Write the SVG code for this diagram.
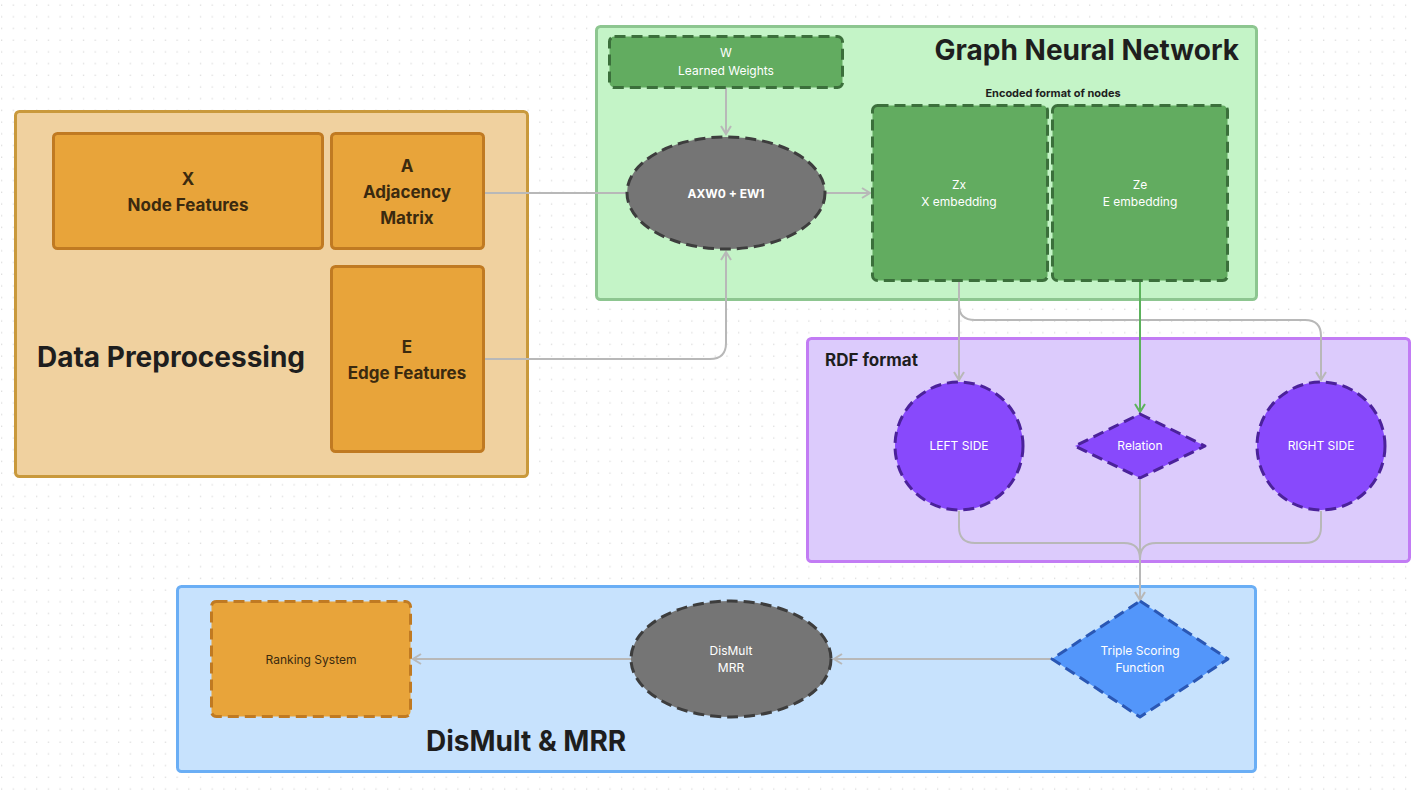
<svg xmlns="http://www.w3.org/2000/svg" width="1412" height="791" viewBox="0 0 1412 791">
<defs>
<pattern id="dots" x="0" y="0" width="11.7" height="11.7" patternUnits="userSpaceOnUse">
<rect x="1" y="4.5" width="1.2" height="1.2" fill="#d6d6d6"/>
</pattern>
<marker id="ah" viewBox="0 0 12 12" refX="10" refY="6" markerWidth="12" markerHeight="12" markerUnits="userSpaceOnUse" orient="auto">
<path d="M2,1 L10,6 L2,11" fill="none" stroke="#b8b8b8" stroke-width="2"/>
</marker>
<marker id="ahg" viewBox="0 0 12 12" refX="10" refY="6" markerWidth="12" markerHeight="12" markerUnits="userSpaceOnUse" orient="auto">
<path d="M2,1 L10,6 L2,11" fill="none" stroke="#5cb25c" stroke-width="2"/>
</marker>
<style>
text{font-family:Inter,"Noto Sans","Liberation Sans",sans-serif;}
.title{font-size:28px;font-weight:700;fill:#1e1e1e;}
.orn{fill:#e8a43a;stroke:#c07a22;stroke-width:3;}
.ornd{fill:#e8a43a;stroke:#c07a22;stroke-width:3;stroke-dasharray:11 6;}
.gr{fill:#62ac60;stroke:#3b6f3b;stroke-width:3;stroke-dasharray:11 6;}
.gy{fill:#757575;stroke:#3d3d3d;stroke-width:3;stroke-dasharray:11 6;}
.pu{fill:#8849fc;stroke:#4b229a;stroke-width:3;stroke-dasharray:11 6;}
.bl{fill:#5396fa;stroke:#2a57b4;stroke-width:3;stroke-dasharray:11 6;}
.ot{font-size:17px;font-weight:700;fill:#3b2a0f;text-anchor:middle;}
.wt{font-size:12px;fill:#ffffff;text-anchor:middle;}
.wb{font-size:12px;font-weight:700;fill:#ffffff;text-anchor:middle;}
.con{fill:none;stroke:#b8b8b8;stroke-width:2;}
</style>
</defs>
<rect width="1412" height="791" fill="#ffffff"/>
<rect width="1412" height="791" fill="url(#dots)"/>

<g id="data-preprocessing">
<rect x="15.5" y="111.5" width="512" height="365" rx="4" fill="#f0d19f" stroke="#c9993c" stroke-width="3"/>
<text x="37" y="367" class="title">Data Preprocessing</text>
</g>
<g id="gnn">
<rect x="596.5" y="26.5" width="660" height="273" rx="4" fill="#c4f4c7" stroke="#8dc690" stroke-width="3"/>
<text x="1239" y="60" class="title" text-anchor="end">Graph Neural Network</text>
<text x="1053" y="97" font-size="11" font-weight="700" fill="#1e1e1e" text-anchor="middle">Encoded format of nodes</text>
</g>
<g id="rdf">
<rect x="807.5" y="338.5" width="602" height="223" rx="4" fill="#dccbfc" stroke="#c27cf4" stroke-width="3"/>
<text x="825" y="366" font-size="17" font-weight="700" fill="#1e1e1e">RDF format</text>
</g>
<g id="dismult-mrr">
<rect x="177.5" y="586.5" width="1078" height="185" rx="4" fill="#c7e2fd" stroke="#6aaef5" stroke-width="3"/>
<text x="426" y="751" class="title">DisMult &amp; MRR</text>
</g>

<g id="connectors">
<path class="con" d="M484,193 H627"/>
<path class="con" d="M484,359 H710 Q726,359 726,343 V252" marker-end="url(#ah)"/>
<path class="con" d="M726,88 V134" marker-end="url(#ah)"/>
<path class="con" d="M826,193 H870" marker-end="url(#ah)"/>
<path class="con" d="M959,282 V380" marker-end="url(#ah)"/>
<path class="con" d="M959,305 Q959,320 975,320 H1305 Q1321,320 1321,336 V380" marker-end="url(#ah)"/>
<path d="M1140,282 V412" fill="none" stroke="#5cb25c" stroke-width="2" marker-end="url(#ahg)"/>
<path class="con" d="M959,511 V527 Q959,543 975,543 H1124 Q1140,543 1140,559"/>
<path class="con" d="M1321,511 V527 Q1321,543 1305,543 H1156 Q1140,543 1140,559"/>
<path class="con" d="M1140,480 V600" marker-end="url(#ah)"/>
<path class="con" d="M1052,659 H834" marker-end="url(#ah)"/>
<path class="con" d="M631,659 H413" marker-end="url(#ah)"/>
</g>

<g id="node-x">
<rect x="53.5" y="133.5" width="269" height="115" rx="4" class="orn"/>
<text x="188" y="185" class="ot">X</text>
<text x="188" y="211" class="ot">Node Features</text>
</g>
<g id="node-a">
<rect x="331.5" y="133.5" width="152" height="115" rx="4" class="orn"/>
<text x="407" y="172" class="ot">A</text>
<text x="407" y="198" class="ot">Adjacency</text>
<text x="407" y="224" class="ot">Matrix</text>
</g>
<g id="node-e">
<rect x="331.5" y="266.5" width="152" height="185" rx="4" class="orn"/>
<text x="407" y="353" class="ot">E</text>
<text x="407" y="379" class="ot">Edge Features</text>
</g>
<g id="node-w">
<rect x="609.5" y="36.5" width="233" height="51" rx="5" class="gr"/>
<text x="726" y="57" class="wt">W</text>
<text x="726" y="75" class="wt">Learned Weights</text>
</g>
<g id="node-axw">
<ellipse cx="726" cy="193" rx="99" ry="56" class="gy"/>
<text x="726" y="198" class="wb">AXW0 + EW1</text>
</g>
<g id="node-zx">
<rect x="872.5" y="105.5" width="175" height="175" rx="5" class="gr"/>
<text x="959" y="189" class="wt">Zx</text>
<text x="959" y="206" class="wt">X embedding</text>
</g>
<g id="node-ze">
<rect x="1052.5" y="105.5" width="175" height="175" rx="5" class="gr"/>
<text x="1140" y="189" class="wt">Ze</text>
<text x="1140" y="206" class="wt">E embedding</text>
</g>
<g id="node-left">
<circle cx="959" cy="446" r="64" class="pu"/>
<text x="959" y="450" class="wt">LEFT SIDE</text>
</g>
<g id="node-relation">
<path d="M1140,414 L1205,446 L1140,478 L1075,446 Z" stroke-linejoin="round" class="pu"/>
<text x="1140" y="450" class="wt">Relation</text>
</g>
<g id="node-right">
<circle cx="1321" cy="446" r="64" class="pu"/>
<text x="1321" y="450" class="wt">RIGHT SIDE</text>
</g>
<g id="node-triple">
<path d="M1140,601 L1228,659 L1140,717 L1052,659 Z" stroke-linejoin="round" class="bl"/>
<text x="1140" y="655" class="wt">Triple Scoring</text>
<text x="1140" y="672" class="wt">Function</text>
</g>
<g id="node-dismult">
<ellipse cx="731" cy="659" rx="100" ry="58" class="gy"/>
<text x="731" y="655" class="wt">DisMult</text>
<text x="731" y="672" class="wt">MRR</text>
</g>
<g id="node-ranking">
<rect x="211.5" y="601.5" width="199" height="115" rx="5" class="ornd"/>
<text x="311" y="664" font-size="12" fill="#3b2a0f" text-anchor="middle">Ranking System</text>
</g>
</svg>
